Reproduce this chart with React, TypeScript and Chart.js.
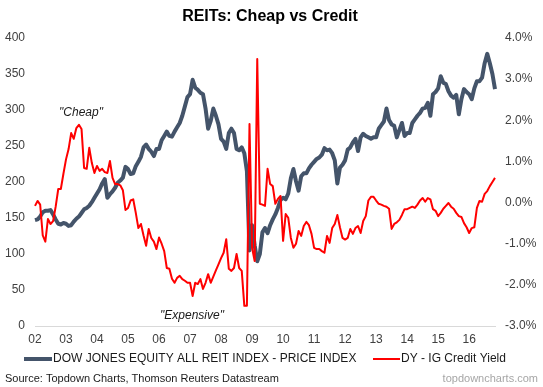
import React, { useEffect, useRef } from 'react';
import { Chart, registerables } from 'chart.js';

Chart.register(...registerables);

const FONT = '"Liberation Sans", Arial, Helvetica, sans-serif';

// x-axis tick labels (January of each year), monthly data Jan 2002 - Nov 2016
const yearLabels = ['02', '03', '04', '05', '06', '07', '08', '09', '10', '11', '12', '13', '14', '15', '16'];
const monthsInLastYear = 11;

// DOW JONES EQUITY ALL REIT INDEX - PRICE INDEX (left axis)
const reitIndex = [
  147, 148, 152, 158, 160, 160, 161, 155, 148, 142, 141, 143,
  142, 139, 140, 145, 149, 152, 157, 162, 164, 167, 172, 178,
  184, 190, 198, 204, 178, 183, 187, 192, 199, 202, 206, 221,
  218, 211, 212, 222, 228, 235, 248, 252, 246, 242, 236, 246,
  246, 258, 264, 270, 264, 263, 270, 276, 282, 292, 305, 318,
  322, 342, 331, 328, 324, 322, 302, 274, 285, 302, 292, 280,
  260, 256, 246, 268, 274, 268, 246, 244, 248, 240, 215, 105,
  140, 112, 90, 100, 130, 136, 129, 140, 148, 155, 164, 175,
  178, 176, 184, 205, 218, 201, 188, 208, 212, 212, 219, 224,
  228, 232, 234, 238, 247, 244, 245, 240, 230, 198, 220, 224,
  230, 245, 248, 255, 260, 243, 262, 267, 264, 262, 260, 262,
  262, 274, 279, 284, 302, 286, 280, 278, 262, 272, 282, 264,
  268, 268, 282, 287, 292, 296, 302, 303, 310, 292, 322, 325,
  330, 347, 338, 336, 326, 320, 317, 321, 294, 315, 329, 325,
  322, 315, 330, 340, 340, 345, 365, 378, 365, 350, 329,
];

// DY - IG Credit Yield, % (right axis)
const creditYield = [
  -0.08, 0.04, -0.05, -0.80, -0.95, -0.40, -0.52, -0.45, -0.10, 0.33, 0.33, 0.70,
  1.05, 1.30, 1.69, 1.55, 1.81, 1.89, 1.79, 0.84, 0.82, 1.33, 0.96, 0.72,
  0.89, 0.77, 0.82, 0.74, 0.72, 1.01, 0.60, 0.45, 0.45, 0.42, 0.30, -0.18,
  -0.13, 0.05, 0.08, -0.25, -0.62, -0.52, -0.80, -1.05, -0.64, -0.86, -0.95, -1.13,
  -0.85, -1.00, -1.18, -1.59, -1.61, -1.85, -1.95, -1.83, -1.78, -1.86, -1.90, -1.95,
  -1.95, -2.27, -1.95, -1.98, -1.86, -2.10, -1.95, -1.74, -1.95, -1.80, -1.65, -1.50,
  -1.35, -1.22, -0.89, -1.61, -1.66, -1.59, -1.25, -1.59, -1.66, -2.51, -2.51, 1.91,
  -1.10, -1.42, 3.49, -0.03, -0.05, -0.08, 0.82, 0.45, 0.40, -0.03, 0.09, 0.16,
  -0.93, -0.28, -0.37, -0.86, -1.10, -1.00, -0.69, -0.81, -0.57, -0.47, -0.55, -0.76,
  -1.10, -1.13, -1.13, -1.18, -1.22, -0.81, -0.98, -0.62, -0.52, -0.30, -0.60, -0.86,
  -0.90, -0.86, -0.64, -0.76, -0.62, -0.57, -0.74, -0.45, -0.33, 0.05, 0.14, 0.14,
  0.05, -0.03, -0.05, -0.08, -0.10, -0.15, -0.64, -0.52, -0.48, -0.42, -0.30, -0.16,
  -0.16, -0.13, -0.10, -0.13, -0.05, 0.05, 0.11, 0.02, 0.11, 0.08, -0.16, -0.20,
  -0.33, -0.25, -0.15, -0.08, -0.01, -0.10, -0.15, -0.25, -0.33, -0.35, -0.50, -0.60,
  -0.74, -0.62, -0.60, -0.13, 0.04, 0.02, 0.21, 0.28, 0.40, 0.50, 0.60,
];

const TITLE = 'REITs: Cheap vs Credit';
const SERIES_A = 'DOW JONES EQUITY ALL REIT INDEX - PRICE INDEX';
const SERIES_B = 'DY - IG Credit Yield';
const SOURCE = 'Source: Topdown Charts, Thomson Reuters Datastream';
const SITE = 'topdowncharts.com';
const NOTE_HIGH = '"Cheap"';
const NOTE_LOW = '"Expensive"';

const GREY = '#44546A';
const RED = '#FF0000';

const categories: string[] = [];
yearLabels.forEach((y, i) => {
  const n = i === yearLabels.length - 1 ? monthsInLastYear : 12;
  for (let m = 1; m <= n; m++) categories.push(`${y}-${m}`);
});

const decorPlugin = {
  id: 'decor',
  afterDraw(chart: any) {
    const ctx = chart.ctx as CanvasRenderingContext2D;
    ctx.save();
    ctx.textBaseline = 'middle';
    // title
    ctx.fillStyle = '#000000';
    ctx.font = `bold 16px ${FONT}`;
    ctx.textAlign = 'center';
    ctx.fillText(TITLE, 270, 17);
    // annotations
    ctx.font = `italic 12px ${FONT}`;
    ctx.fillStyle = '#1a1a1a';
    ctx.fillText(NOTE_HIGH, 81, 113);
    ctx.fillText(NOTE_LOW, 192, 316);
    // legend
    ctx.lineCap = 'butt';
    ctx.strokeStyle = GREY;
    ctx.lineWidth = 4;
    ctx.beginPath();
    ctx.moveTo(24, 359);
    ctx.lineTo(52, 359);
    ctx.stroke();
    ctx.strokeStyle = RED;
    ctx.lineWidth = 2;
    ctx.beginPath();
    ctx.moveTo(373, 359);
    ctx.lineTo(400, 359);
    ctx.stroke();
    ctx.font = `12px ${FONT}`;
    ctx.fillStyle = '#1a1a1a';
    ctx.textAlign = 'left';
    ctx.fillText(SERIES_A, 53, 359);
    ctx.fillText(SERIES_B, 401, 359);
    // source
    ctx.font = `11px ${FONT}`;
    ctx.fillStyle = '#1a1a1a';
    ctx.fillText(SOURCE, 5, 379);
    ctx.fillStyle = '#a6a6a6';
    ctx.textAlign = 'right';
    ctx.fillText(SITE, 538, 379);
    ctx.restore();
  },
};

export default function App() {
  const canvasRef = useRef<HTMLCanvasElement | null>(null);

  useEffect(() => {
    const canvas = canvasRef.current;
    if (!canvas) return;
    const chart = new Chart(canvas, {
      type: 'line',
      data: {
        labels: categories,
        datasets: [
          {
            label: SERIES_A,
            data: reitIndex,
            yAxisID: 'y',
            borderColor: GREY,
            backgroundColor: GREY,
            borderWidth: 4,
            pointRadius: 0,
            tension: 0,
            borderJoinStyle: 'round',
            order: 2,
          },
          {
            label: SERIES_B,
            data: creditYield,
            yAxisID: 'y1',
            borderColor: RED,
            backgroundColor: RED,
            borderWidth: 2,
            pointRadius: 0,
            tension: 0,
            borderJoinStyle: 'round',
            order: 1,
          },
        ],
      },
      options: {
        responsive: false,
        animation: false,
        events: [],
        layout: { padding: { top: 38, left: 0, right: 0, bottom: 0 } },
        plugins: {
          legend: { display: false },
          title: { display: false },
          tooltip: { enabled: false },
        },
        scales: {
          x: {
            grid: { display: false, drawTicks: false },
            border: { display: true, color: '#d9d9d9', width: 1 },
            ticks: {
              autoSkip: false,
              maxRotation: 0,
              minRotation: 0,
              padding: 6,
              color: '#404040',
              font: { family: FONT, size: 12 },
              callback: (_v: any, idx: number) => (idx % 12 === 0 ? yearLabels[idx / 12] : ''),
            },
            afterFit: (s: any) => {
              s.height = 61;
            },
          },
          y: {
            position: 'left',
            min: 0,
            max: 400,
            grid: { display: false, drawTicks: false },
            border: { display: false },
            ticks: {
              stepSize: 50,
              padding: 10,
              color: '#404040',
              font: { family: FONT, size: 12 },
            },
            afterFit: (s: any) => {
              s.width = 35;
            },
          },
          y1: {
            position: 'right',
            min: -3,
            max: 4,
            grid: { display: false, drawTicks: false },
            border: { display: false },
            ticks: {
              stepSize: 1,
              padding: 10,
              color: '#404040',
              font: { family: FONT, size: 12 },
              callback: (v: any) => `${Number(v).toFixed(1)}%`,
            },
            afterFit: (s: any) => {
              s.width = 48;
            },
          },
        },
      },
      plugins: [decorPlugin],
    });
    return () => chart.destroy();
  }, []);

  return (
    <div style={{ position: 'absolute', left: 0, top: 0, width: 543, height: 387, background: '#ffffff' }}>
      <canvas ref={canvasRef} width={543} height={387} style={{ display: 'block' }} />
    </div>
  );
}
